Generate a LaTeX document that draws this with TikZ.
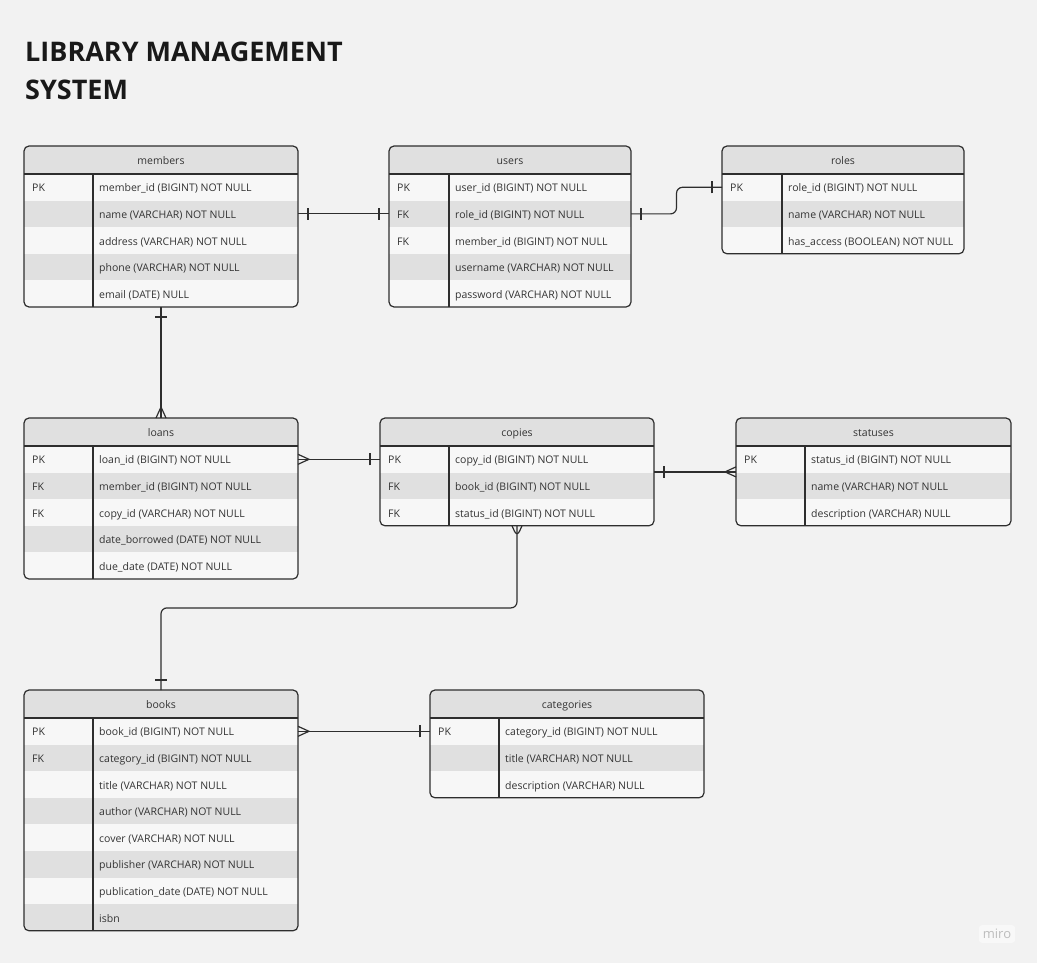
\documentclass[tikz,border=0pt]{standalone}
\usepackage{fontspec}
\setmainfont{Open Sans}
\usepackage{xcolor}
\usetikzlibrary{positioning, calc, decorations.markings}

\definecolor{bg}{HTML}{F2F2F2}
\definecolor{rowlight}{HTML}{F7F7F7}
\definecolor{rowdark}{HTML}{E0E0E0}
\definecolor{ink}{HTML}{333333}
\definecolor{edge}{HTML}{2E2E2E}
\definecolor{logo}{HTML}{BDBDBD}

% table: name, left, top, width, key width, number of rows, key/field rows
\newcommand{\ertable}[7]{%
  \begin{scope}
    \clip[rounded corners=5] (#2,#3) rectangle ++(#4,{28+#6*26.6});
    \node[headcell, minimum width=#4, anchor=north west] (#1-0) at (#2,#3) {#1};
    \foreach \k/\f [count=\i] in {#7} {
      \ifodd\i\relax \def\rowfill{rowlight}\else \def\rowfill{rowdark}\fi
      \node[rowcell, fill=\rowfill, minimum width=#4, anchor=north west] (#1-\i) at (#2,{#3+1.4+\i*26.6}) {};
      \node[celltext, anchor=west] (#1-\i-key) at ($(#1-\i.west)+(8,0)$) {\k};
      \node[celltext, anchor=west] (#1-\i-field) at ($(#1-\i.west)+({#5+6},0)$) {\f};
    }
  \end{scope}
  \draw[tableline] (#1-0.south west) -- (#1-0.south east);
  \draw[tableline] ($(#1-0.south west)+(#5,0)$) -- ($(#1-#6.south west)+(#5,0)$);
  \node[tablebox, minimum width=#4, minimum height={28+#6*26.6}, anchor=north west] (#1) at (#2,#3) {};
}

\begin{document}
\begin{tikzpicture}[x=1pt, y=-1pt,
    headcell/.style={rectangle, fill=rowdark, minimum height=28, inner sep=0, outer sep=0, text height=9, text depth=0, text=ink, font=\fontsize{10.5}{12}\selectfont},
    rowcell/.style={rectangle, minimum height=26.6, inner sep=0, outer sep=0},
    celltext/.style={inner sep=0, text height=9, text depth=0, text=ink, font=\fontsize{10.5}{12}\selectfont},
    tableline/.style={draw=edge, line width=1.2},
    tablebox/.style={rectangle, draw=edge, line width=1.2, rounded corners=5, inner sep=0, outer sep=0},
    titletext/.style={inner sep=0, text=black!90, font=\fontsize{27}{38}\selectfont\bfseries},
    conn/.style={draw=edge, line width=1.2},
    onestart/.style={postaction={decorate, decoration={markings, mark=at position 10pt with {\draw[conn] (0,-6pt) -- (0,6pt);}}}},
    oneend/.style={postaction={decorate, decoration={markings, mark=at position -10pt with {\draw[conn] (0,-6pt) -- (0,6pt);}}}},
    manystart/.style={postaction={decorate, decoration={markings, mark=at position 11pt with {\draw[conn] (-11pt,5pt) -- (0,0) -- (-11pt,-5pt);}}}},
    manyend/.style={postaction={decorate, decoration={markings, mark=at position -11pt with {\draw[conn] (11pt,5pt) -- (0,0) -- (11pt,-5pt);}}}},
]
\fill[bg] (0,0) rectangle (1037,963);
\useasboundingbox (0,0) rectangle (1037,963);

\node[titletext, anchor=base west] (title1) at (25,62) {LIBRARY MANAGEMENT};
\node[titletext, anchor=base west] (title2) at (25,100) {SYSTEM};

\ertable{members}{24}{146}{274}{69}{5}{PK/member\_id (BIGINT) NOT NULL, /name (VARCHAR) NOT NULL, /address (VARCHAR) NOT NULL, /phone (VARCHAR) NOT NULL, /email (DATE) NULL}
\ertable{users}{389}{146}{242}{60}{5}{PK/user\_id (BIGINT) NOT NULL, FK/role\_id (BIGINT) NOT NULL, FK/member\_id (BIGINT) NOT NULL, /username (VARCHAR) NOT NULL, /password (VARCHAR) NOT NULL}
\ertable{roles}{722}{146}{242}{60}{3}{PK/role\_id (BIGINT) NOT NULL, /name (VARCHAR) NOT NULL, /has\_access (BOOLEAN) NOT NULL}
\ertable{loans}{24}{418}{274}{69}{5}{PK/loan\_id (BIGINT) NOT NULL, FK/member\_id (BIGINT) NOT NULL, FK/copy\_id (VARCHAR) NOT NULL, /date\_borrowed (DATE) NOT NULL, /due\_date (DATE) NOT NULL}
\ertable{copies}{380}{418}{274}{69}{3}{PK/copy\_id (BIGINT) NOT NULL, FK/book\_id (BIGINT) NOT NULL, FK/status\_id (BIGINT) NOT NULL}
\ertable{statuses}{736}{418}{275}{69}{3}{PK/status\_id (BIGINT) NOT NULL, /name (VARCHAR) NOT NULL, /description (VARCHAR) NULL}
\ertable{books}{24}{690}{274}{69}{8}{PK/book\_id (BIGINT) NOT NULL, FK/category\_id (BIGINT) NOT NULL, /title (VARCHAR) NOT NULL, /author (VARCHAR) NOT NULL, /cover (VARCHAR) NOT NULL, /publisher (VARCHAR) NOT NULL, /publication\_date (DATE) NOT NULL, /isbn}
\ertable{categories}{430}{690}{274}{69}{3}{PK/category\_id (BIGINT) NOT NULL, /title (VARCHAR) NOT NULL, /description (VARCHAR) NULL}

% relations
\draw[conn, onestart, oneend] (members-2.east) -- (users-2.west);
\draw[conn, rounded corners=6, onestart, oneend] (users-2.east) -| ($(users-2.east)!0.5!(roles-1.west)$) |- (roles-1.west);
\draw[conn, onestart, manyend] (members.south) -- (loans.north);
\draw[conn, manystart, oneend] (loans-1.east) -- (copies-1.west);
\draw[conn, onestart, manyend] (copies.east) -- (statuses.west);
\draw[conn, rounded corners=6, manystart, oneend] (copies.south) |- ($(copies.south)!0.5!(books.north)$) -| (books.north);
\draw[conn, manystart, oneend] (books-1.east) -- (categories-1.west);

\node[rounded corners=3, fill=white!50!bg, text=logo, font=\fontsize{13}{15}\selectfont, inner sep=4] (miro) at (997,934) {miro};
\end{tikzpicture}
\end{document}
